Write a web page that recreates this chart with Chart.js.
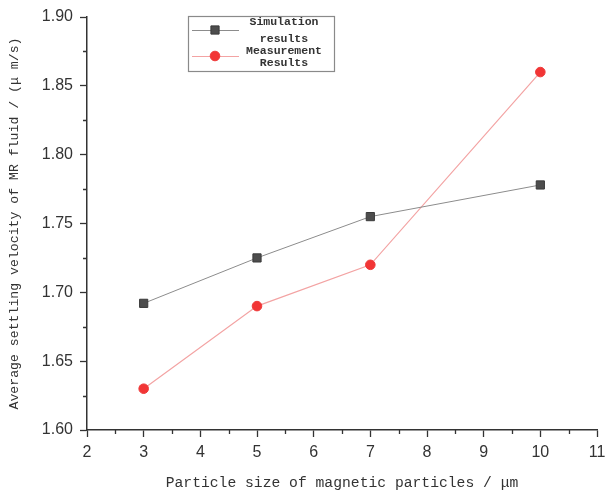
<!DOCTYPE html>
<html>
<head>
<meta charset="utf-8">
<script src="https://cdn.jsdelivr.net/npm/chart.js@4"></script>
<style>
  html, body { margin: 0; padding: 0; background: #fff; }
  #wrap { width: 606px; height: 496px; position: relative; }
</style>
</head>
<body>
<div id="wrap"><canvas id="chVel"></canvas></div>
<script>
// Settling velocity vs particle size, simulation vs measurement
const particleSize = [3, 5, 7, 10];
const simulation   = [1.692, 1.725, 1.755, 1.778];
const measurement  = [1.630, 1.690, 1.720, 1.860];

const xTitle = 'Particle size of magnetic particles / \u03bcm';
const yTitle = 'Average settling velocity of MR fluid / (\u03bc m/s)';
const simLabel = ['Simulation', 'results'];
const measLabel = ['Measurement', 'Results'];

const AXIS = '#333';
const MONO = '"Liberation Mono", "DejaVu Sans Mono", monospace';

const toXY = (ys) => particleSize.map((x, i) => ({ x, y: ys[i] }));

// short minor ticks between the labelled ones
const minorTicks = {
  id: 'minorTicks',
  afterDraw(chart) {
    const { ctx, scales: { x, y } } = chart;
    ctx.save();
    ctx.strokeStyle = AXIS;
    ctx.lineWidth = 1.3;
    ctx.beginPath();
    for (let v = 2.5; v < 11; v += 1) {
      const px = Math.round(x.getPixelForValue(v)) + 0.5;
      ctx.moveTo(px, y.bottom); ctx.lineTo(px, y.bottom + 4);
    }
    for (let v = 1.625; v < 1.9; v += 0.05) {
      const py = Math.round(y.getPixelForValue(v)) + 0.5;
      ctx.moveTo(x.left, py); ctx.lineTo(x.left - 4, py);
    }
    ctx.stroke();
    ctx.restore();
  }
};

// boxed legend with two-line labels
const legendBox = {
  id: 'legendBox',
  afterDraw(chart) {
    const { ctx } = chart;
    const bx = 188, by = 16, bw = 146, bh = 55;
    ctx.save();
    ctx.strokeStyle = '#8a8a8a';
    ctx.lineWidth = 1.2;
    ctx.strokeRect(bx + 0.5, by + 0.5, bw, bh);
    const rows = [
      { ds: chart.data.datasets[0], lines: simLabel, y: 30, ty: [22, 39] },
      { ds: chart.data.datasets[1], lines: measLabel, y: 56, ty: [51, 63] }
    ];
    ctx.font = 'bold 11.5px ' + MONO;
    ctx.textAlign = 'center';
    ctx.textBaseline = 'middle';
    for (const r of rows) {
      ctx.strokeStyle = r.ds.borderColor;
      ctx.lineWidth = 1;
      ctx.beginPath();
      ctx.moveTo(192, r.y + 0.5); ctx.lineTo(239, r.y + 0.5);
      ctx.stroke();
      ctx.fillStyle = r.ds.pointBackgroundColor;
      ctx.strokeStyle = r.ds.pointBorderColor;
      ctx.beginPath();
      if (r.ds.pointStyle === 'rect') {
        const s = r.ds.pointRadius * Math.SQRT1_2;
        ctx.rect(215 - s, r.y - s, 2 * s, 2 * s);
      } else {
        ctx.arc(215, r.y, r.ds.pointRadius, 0, Math.PI * 2);
      }
      ctx.fill(); ctx.stroke();
      ctx.fillStyle = '#333';
      ctx.fillText(r.lines[0], 284, r.ty[0]);
      ctx.fillText(r.lines[1], 284, r.ty[1]);
    }
    ctx.restore();
  }
};

new Chart(document.getElementById('chVel'), {
  type: 'line',
  data: {
    datasets: [
      {
        label: 'Simulation results',
        data: toXY(simulation),
        borderColor: '#8c8c8c',
        borderWidth: 1,
        pointStyle: 'rect',
        pointRadius: 5.8,
        pointBackgroundColor: '#4d4d4d',
        pointBorderColor: '#3a3a3a',
        pointBorderWidth: 1,
        tension: 0
      },
      {
        label: 'Measurement Results',
        data: toXY(measurement),
        borderColor: '#f3a3a3',
        borderWidth: 1.2,
        pointStyle: 'circle',
        pointRadius: 4.8,
        pointBackgroundColor: '#f23535',
        pointBorderColor: '#ee3a3a',
        pointBorderWidth: 1,
        tension: 0
      }
    ]
  },
  options: {
    responsive: true,
    maintainAspectRatio: false,
    animation: false,
    layout: { padding: { left: 0, top: 17, right: 9, bottom: 0 } },
    plugins: { legend: { display: false }, tooltip: { enabled: false } },
    scales: {
      x: {
        type: 'linear',
        min: 2, max: 11,
        afterFit: (s) => { s.height = 66; s.paddingLeft = 0; s.paddingRight = 0; },
        border: { color: AXIS, width: 1.5 },
        grid: { drawOnChartArea: false, tickLength: 7, color: AXIS, tickWidth: 1.3 },
        ticks: {
          stepSize: 1, padding: 6, color: '#333',
          font: { family: '"Liberation Sans", Arial, sans-serif', size: 16 }
        },
        title: {
          display: true, text: xTitle, color: '#333',
          font: { family: MONO, size: 14.7 },
          padding: { top: 0, bottom: 4 }
        }
      },
      y: {
        min: 1.6, max: 1.9,
        afterFit: (s) => { s.width = 87; },
        border: { color: AXIS, width: 1.5 },
        grid: { drawOnChartArea: false, tickLength: 7, color: AXIS, tickWidth: 1.3 },
        ticks: {
          stepSize: 0.05, padding: 7, color: '#333',
          font: { family: '"Liberation Sans", Arial, sans-serif', size: 16 },
          callback: (v) => v.toFixed(2)
        },
        title: {
          display: true, text: yTitle, color: '#333',
          font: { family: MONO, size: 13.2 },
          padding: { top: 7, bottom: 0 }
        }
      }
    }
  },
  plugins: [minorTicks, legendBox]
});
</script>
</body>
</html>
